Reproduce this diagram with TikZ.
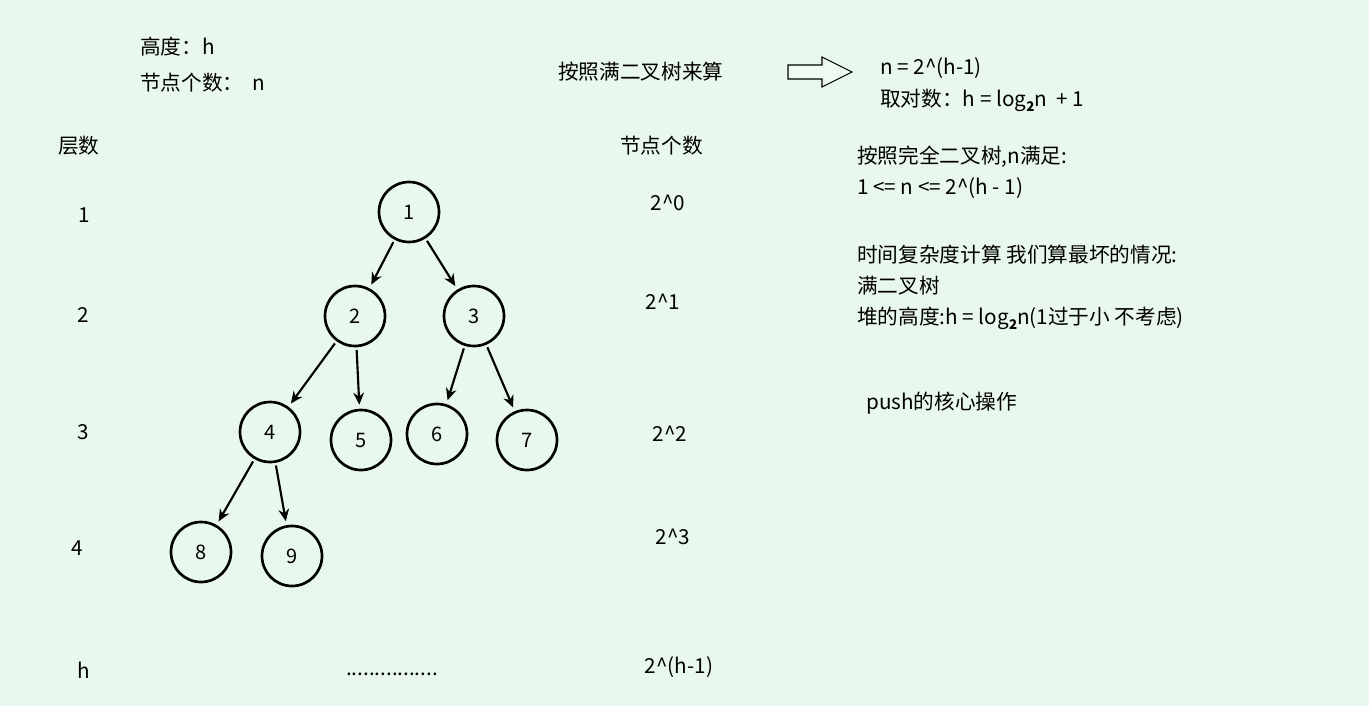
\documentclass[tikz,border=0pt]{standalone}
\usepackage{fontspec}
\setmainfont{Noto Sans CJK SC}
\usetikzlibrary{arrows.meta}
\definecolor{bg}{HTML}{E9F8EC}
\tikzset{
  tn/.style={circle,draw,line width=2pt,minimum size=45pt,inner sep=0pt,font=\fontsize{15}{18}\selectfont},
  tx/.style={anchor=west,inner sep=0pt,font=\fontsize{15.5}{19}\selectfont},
  tc/.style={inner sep=0pt,font=\fontsize{15.5}{19}\selectfont},
  ar/.style={-{Stealth[length=9pt,width=8pt]},line width=1.6pt,shorten >=3pt,shorten <=2pt}
}
\newcommand{\logtwo}{log\raisebox{-4pt}{\fontsize{10}{10}\selectfont\textbf{2}}}
\begin{document}
\begin{tikzpicture}[x=0.75pt,y=-0.75pt]
\fill[bg] (0,0) rectangle (1369,706);
\useasboundingbox (0,0) rectangle (1369,706);
\node[tx] (t1) at (140,47) {高度：h};
\node[tx] (t2) at (140,83) {节点个数：\ \ n};
\node[tx] (t3) at (58,146) {层数};
\node[tc] (l1) at (84,215) {1};
\node[tc] (l2) at (83,315) {2};
\node[tc] (l3) at (83,432) {3};
\node[tc] (l4) at (77,548) {4};
\node[tc] (l5) at (84,670) {h};
\node[tx] (t4) at (620,146) {节点个数};
\node[tc] (c1) at (668,203) {2\^{}0};
\node[tc] (c2) at (663,302) {2\^{}1};
\node[tc] (c3) at (670,434) {2\^{}2};
\node[tc] (c4) at (673,537) {2\^{}3};
\node[tc] (c5) at (679,667) {2\^{}(h-1)};
\node[tc] (dots) at (392,674) {................};
\node[tn] (n1) at (409,212) {1};
\node[tn] (n2) at (355,316) {2};
\node[tn] (n3) at (474,316) {3};
\node[tn] (n4) at (270,432) {4};
\node[tn] (n5) at (361,440) {5};
\node[tn] (n6) at (437,434) {6};
\node[tn] (n7) at (527,440) {7};
\node[tn] (n8) at (201,552) {8};
\node[tn] (n9) at (292,556) {9};
\draw[ar] (n1) -- (n2);
\draw[ar] (n1) -- (n3);
\draw[ar] (n2) -- (n4);
\draw[ar] (n2) -- (n5);
\draw[ar] (n3) -- (n6);
\draw[ar] (n3) -- (n7);
\draw[ar] (n4) -- (n8);
\draw[ar] (n4) -- (n9);
\node[tx] (t5) at (558,72) {按照满二叉树来算};
\draw[line width=0.8pt,fill=white,fill opacity=0.3] (788,65) -- (822,65) -- (822,57) -- (852,72) -- (822,87) -- (822,79) -- (788,79) -- cycle;
\node[tx] (t6) at (880,68) {n = 2\^{}(h-1)};
\node[tx] (t7) at (880,100) {取对数：h = \logtwo n\ \ + 1};
\node[tx] (t8) at (857,157) {按照完全二叉树,n满足:};
\node[tx] (t9) at (857,188) {1 <= n <= 2\^{}(h - 1)};
\node[tx] (t10) at (857,255) {时间复杂度计算 我们算最坏的情况:};
\node[tx] (t11) at (857,286) {满二叉树};
\node[tx] (t12) at (857,318) {堆的高度:h = \logtwo n(1过于小 不考虑)};
\node[tx] (t13) at (866,403) {push的核心操作};
\end{tikzpicture}
\end{document}
